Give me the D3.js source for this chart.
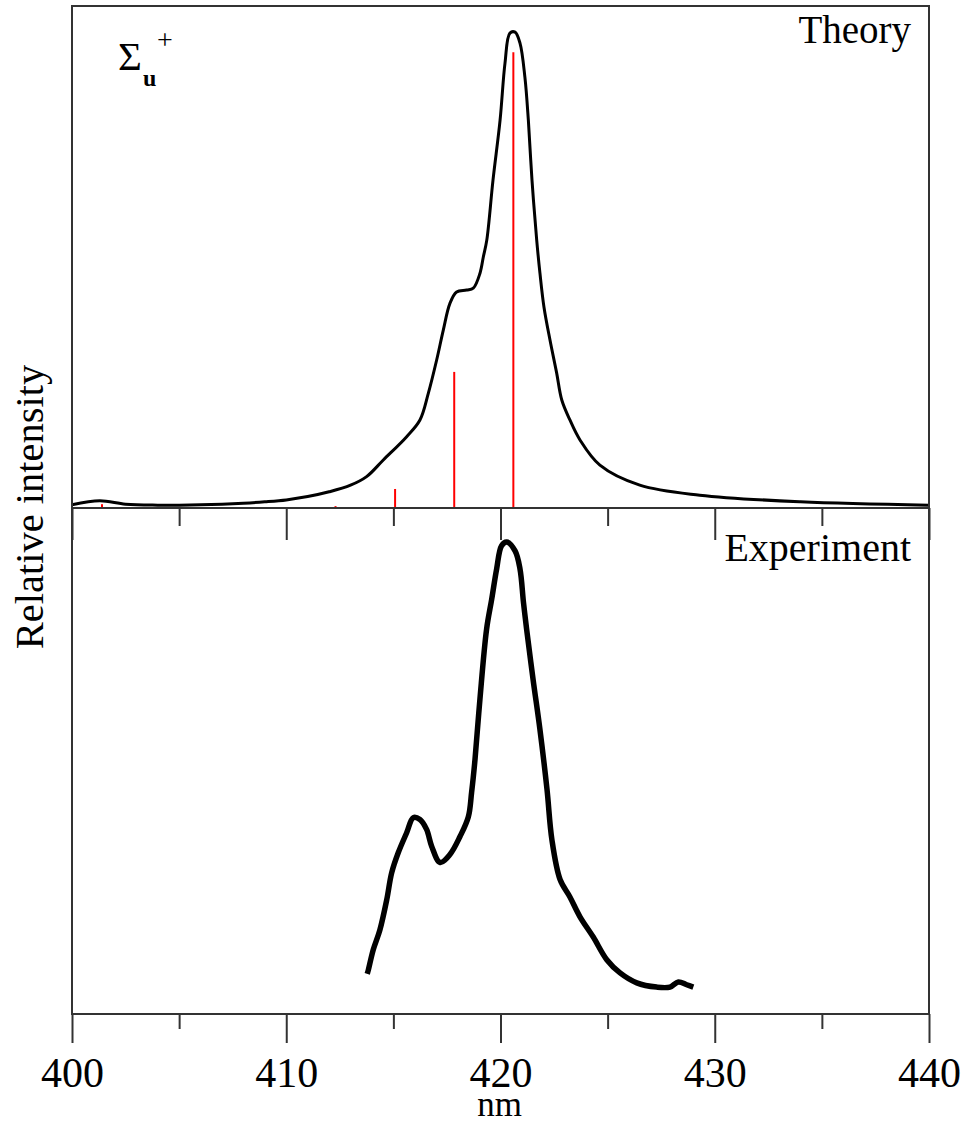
<!DOCTYPE html>
<html>
<head>
<meta charset="utf-8">
<script src="https://cdn.jsdelivr.net/npm/d3@7"></script>
<style>
  body { margin: 0; background: #fff; }
  text { font-family: "Liberation Serif", "Times New Roman", serif; fill: #000; }
</style>
</head>
<body>
<script>
  // theory spectrum (normalised to its peak)
  const theoryNm = [400, 401.3, 402.5, 404, 405, 407, 408, 409, 410, 411, 412, 413, 413.75, 414.53,
    415.62, 416.24, 416.63, 417.02, 417.33, 417.64, 417.95, 418.42, 418.73, 419.04, 419.2, 419.36,
    419.65, 419.98, 420.21, 420.44, 420.68, 420.91, 421.14, 421.3, 421.47, 421.69, 421.84, 422.03,
    422.31, 422.62, 422.86, 423.24, 423.71, 424.64, 426.5, 429.3, 434, 440];
  const theoryVal = [0.007, 0.015, 0.008, 0.006, 0.006, 0.008, 0.01, 0.013, 0.017, 0.024, 0.034, 0.048, 0.066, 0.101,
    0.150, 0.185, 0.241, 0.311, 0.374, 0.430, 0.454, 0.458, 0.462, 0.493, 0.528, 0.563,
    0.689, 0.815, 0.935, 0.998, 1.0, 0.977, 0.905, 0.815, 0.689, 0.563, 0.494, 0.422,
    0.353, 0.284, 0.227, 0.185, 0.143, 0.09, 0.048, 0.027, 0.013, 0.006];

  // stick transitions (red)
  const stickNm = [401.4, 412.3, 415.08, 417.84, 420.6];
  const stickVal = [0.008, 0.004, 0.04, 0.286, 0.958];

  // experiment spectrum
  const exptNm = [413.78, 413.83, 414.06, 414.37, 414.69, 414.92, 415.23, 415.62, 415.93, 416.24, 416.55, 416.79,
    417.18, 417.64, 418.11, 418.5, 418.65, 418.81, 419.04, 419.35, 419.59, 419.82, 420.05, 420.29,
    420.68, 420.91, 421.07, 421.22, 421.52, 421.84, 422.17, 422.4, 422.78, 423.24, 423.71, 424.33,
    424.96, 425.58, 426.36, 427.29, 427.91, 428.3, 428.69, 429.0];
  const exptVal = [0.085, 0.093, 0.136, 0.178, 0.242, 0.299, 0.342, 0.384, 0.416, 0.412, 0.391, 0.355,
    0.321, 0.338, 0.376, 0.418, 0.469, 0.539, 0.667, 0.815, 0.879, 0.943, 0.992, 1.0,
    0.981, 0.943, 0.873, 0.815, 0.709, 0.603, 0.476, 0.369, 0.285, 0.248, 0.206, 0.163,
    0.115, 0.087, 0.066, 0.057, 0.057, 0.068, 0.062, 0.057];

  const majorTicks = [400, 410, 420, 430, 440];
  const minorTicks = [405, 415, 425, 435];

  const width = 964, height = 1124;
  const margin = {left: 72, right: 929, top: 6, mid: 508, bottom: 1014};

  const svg = d3.select('body')
    .append('svg')
    .attr('width', width)
    .attr('height', height);

  let x = d3.scaleLinear()
      .domain([400, 440])
      .range([margin.left, margin.right]);

  let yTop = d3.scaleLinear()
      .domain([0, 1.055])
      .range([margin.mid, margin.top]);

  let yBot = d3.scaleLinear()
      .domain([0, 1.072])
      .range([margin.bottom, margin.mid]);

  // sticks
  svg.append('g')
    .selectAll('line')
    .data(stickNm.map((d, i) => ({nm: d, v: stickVal[i]})))
    .enter().append('line')
      .attr('x1', d => x(d.nm))
      .attr('x2', d => x(d.nm))
      .attr('y1', yTop(0))
      .attr('y2', d => yTop(d.v))
      .attr('stroke', '#ff0000')
      .attr('stroke-width', 2);

  let theoryLine = d3.line()
      .x(d => x(d.nm))
      .y(d => yTop(d.v))
      .curve(d3.curveCatmullRom.alpha(0.5));

  svg.append('path')
    .datum(theoryNm.map((d, i) => ({nm: d, v: theoryVal[i]})))
    .attr('d', theoryLine)
    .attr('fill', 'none')
    .attr('stroke', '#000')
    .attr('stroke-width', 3);

  let exptLine = d3.line()
      .x(d => x(d.nm))
      .y(d => yBot(d.v))
      .curve(d3.curveCatmullRom.alpha(0.5));

  svg.append('path')
    .datum(exptNm.map((d, i) => ({nm: d, v: exptVal[i]})))
    .attr('d', exptLine)
    .attr('fill', 'none')
    .attr('stroke', '#000')
    .attr('stroke-width', 5.5)
    .attr('stroke-linejoin', 'round');

  // frame
  svg.append('rect')
    .attr('x', margin.left).attr('y', margin.top)
    .attr('width', margin.right - margin.left).attr('height', margin.bottom - margin.top)
    .attr('fill', 'none')
    .attr('stroke', '#333')
    .attr('stroke-width', 2);

  svg.append('line')
    .attr('x1', margin.left).attr('x2', margin.right)
    .attr('y1', margin.mid).attr('y2', margin.mid)
    .attr('stroke', '#333')
    .attr('stroke-width', 2);

  // ticks: divider ticks point down with no labels, bottom axis carries the labels
  function tickAxis(y0, values, size, labels) {
    let ax = d3.axisBottom(x)
        .tickValues(values)
        .tickSize(size)
        .tickFormat(labels ? d3.format('d') : '');
    let g = svg.append('g')
        .attr('transform', 'translate(0,' + y0 + ')')
        .call(ax);
    g.select('.domain').remove();
    g.selectAll('.tick line').attr('stroke', '#333').attr('stroke-width', 2);
    return g;
  }

  tickAxis(margin.mid, majorTicks, 32, false);
  tickAxis(margin.mid, minorTicks, 18, false);
  tickAxis(margin.bottom, minorTicks, 15, false);
  let gx = tickAxis(margin.bottom, majorTicks, 29, true);
  gx.selectAll('.tick text')
    .attr('y', 73)
    .attr('dy', 0)
    .attr('font-family', '"Liberation Serif", serif')
    .attr('font-size', 42)
    .attr('fill', '#000');

  // labels
  svg.append('text')
    .attr('x', (margin.left + margin.right) / 2 - 1)
    .attr('y', 1116)
    .attr('text-anchor', 'middle')
    .attr('font-size', 35)
    .text('nm');

  svg.append('text')
    .attr('transform', 'translate(43,507) rotate(-90)')
    .attr('text-anchor', 'middle')
    .attr('font-size', 40.5)
    .text('Relative intensity');

  svg.append('text')
    .attr('x', 911)
    .attr('y', 43)
    .attr('text-anchor', 'end')
    .attr('font-size', 39)
    .text('Theory');

  svg.append('text')
    .attr('x', 911)
    .attr('y', 561)
    .attr('text-anchor', 'end')
    .attr('font-size', 40)
    .text('Experiment');

  svg.append('text')
    .attr('x', 118)
    .attr('y', 70)
    .attr('font-size', 41)
    .text('Σ');

  svg.append('text')
    .attr('x', 143)
    .attr('y', 86)
    .attr('font-size', 24)
    .attr('font-weight', 'bold')
    .attr('font-family', '"DejaVu Sans", sans-serif')
    .text('u');

  svg.append('text')
    .attr('x', 157)
    .attr('y', 49)
    .attr('font-size', 28)
    .text('+');
</script>
</body>
</html>
